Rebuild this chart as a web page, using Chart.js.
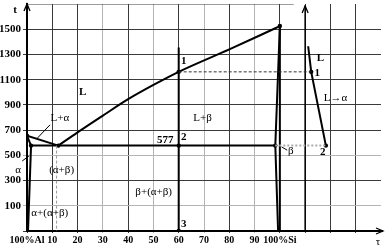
<!DOCTYPE html>
<html>
<head>
<meta charset="utf-8">
<script src="https://cdn.jsdelivr.net/npm/chart.js@4.4.1/dist/chart.umd.min.js"></script>
<style>
  html, body { margin: 0; padding: 0; background: #fff; }
</style>
</head>
<body>
<canvas id="chart" width="385" height="247"></canvas>
<script>
// --- Axis ticks ---
const xTickValues = [0, 10, 20, 30, 40, 50, 60, 70, 80, 90, 100, 110, 120, 130];
const xTickLabels = ['100%Al', '10', '20', '30', '40', '50', '60', '70', '80', '90', '100%Si', '', '', ''];
const yTickValues = [-100, 100, 300, 500, 700, 900, 1100, 1300, 1500, 1700];
const yTickLabels = ['', '100', '300', '500', '700', '900', '1100', '1300', '1500', ''];
const grayX = [30, 50, 70, 90];
const grayY = [100, 500];

// --- Phase diagram lines (composition %Si, temperature) ---
const alLiqX = [0, 12.4], alLiqT = [655, 577];
const alSolX = [0, 1.6], alSolT = [655, 577];
const alSolvX = [1.6, 0.4], alSolvT = [577, -100];
const eutX = [1.6, 98.2], eutT = [577, 577];
const siLiqX = [12.4, 20, 30, 40, 50, 60, 80, 92, 100];
const siLiqT = [577, 682, 815, 945, 1058, 1162, 1340, 1450, 1525];
const siSolX = [100, 98.2, 99.3], siSolT = [1525, 577, -100];
const siPureX = [100, 100], siPureT = [1525, -100];
const alloyX = [60, 60], alloyT = [1355, -100];
const eutDashX = [11.7, 11.7], eutDashT = [577, -100];

// --- Cooling curve (right part) ---
const coolX = [111.2, 112.4, 118.2];
const coolT = [1365, 1162, 577];
const tAxisX = [110, 110], tAxisT = [-100, 1688];
const link1X = [60, 112.4], link1T = [1162, 1162];
const link2X = [98.2, 118.2], link2T = [577, 577];
const topX = [0, 105.5], topT = [1700, 1700];

// marked points
const dotX = [0, 1.6, 12.4, 60, 60, 60, 100, 98.2, 112.4, 118.2];
const dotT = [655, 577, 577, 1162, 577, -100, 1525, 577, 1162, 577];

// text labels: [text, x, t, bold]
const notes = [
    ['L', 22, 1000, true],
    ['L+α', 13, 796, false],
    ['α', -3.5, 385, false],
    ['(α+β)', 13.7, 386, false],
    ['α+(α+β)', 9, 39, false],
    ['577', 54.7, 622, true],
    ['2', 62, 645, true],
    ['1', 62, 1250, true],
    ['3', 62, -45, true],
    ['L+β', 69.4, 796, false],
    ['β+(α+β)', 50.1, 209, false],
    ['L', 116, 1274, true],
    ['1', 114.8, 1150, true],
    ['L→α', 122, 951, false],
    ['2', 117, 524, true],
    ['β', 104.3, 530, false]
];
// leader lines: [x1, t1, x2, t2]
const leaders = [
    [9.1, 742, 3.9, 632],
    [-1.9, 455, 0.8, 495],
    [100.7, 567, 102.9, 541]
];

const pts = (xs, ts) => xs.map((v, i) => ({ x: v, y: ts[i] }));

function line(xs, ts, width, color, dash) {
    return {
        data: pts(xs, ts),
        showLine: true,
        borderColor: color || '#000',
        borderWidth: width,
        borderDash: dash || [],
        pointRadius: 0,
        fill: false
    };
}

const overlay = {
    id: 'overlay',
    afterDatasetsDraw(chart) {
        const { ctx, chartArea: a } = chart;
        const sx = chart.scales.x, sy = chart.scales.y;
        ctx.save();

        // leaders
        ctx.strokeStyle = '#000';
        ctx.lineWidth = 1;
        leaders.forEach(([x1, t1, x2, t2]) => {
            ctx.beginPath();
            ctx.moveTo(sx.getPixelForValue(x1), sy.getPixelForValue(t1));
            ctx.lineTo(sx.getPixelForValue(x2), sy.getPixelForValue(t2));
            ctx.stroke();
        });

        // arrows
        ctx.lineWidth = 1.3;
        const up = (px, py) => {
            ctx.beginPath();
            ctx.moveTo(px - 3, py + 7);
            ctx.lineTo(px, py);
            ctx.lineTo(px + 3, py + 7);
            ctx.stroke();
        };
        up(a.left, a.top);
        up(sx.getPixelForValue(110), a.top + 2);
        ctx.lineWidth = 2;
        ctx.beginPath();
        ctx.moveTo(a.right - 2, a.bottom);
        ctx.lineTo(a.right + 2, a.bottom);
        ctx.stroke();
        ctx.lineWidth = 1.3;
        ctx.beginPath();
        ctx.moveTo(a.right - 5, a.bottom - 3);
        ctx.lineTo(a.right + 2, a.bottom);
        ctx.lineTo(a.right - 5, a.bottom + 3);
        ctx.stroke();

        // labels
        ctx.fillStyle = '#000';
        ctx.textBaseline = 'middle';
        ctx.textAlign = 'center';
        notes.forEach(([txt, nx, nt, bold]) => {
            ctx.font = (bold ? 'bold ' : '') + '11px "Liberation Serif"';
            ctx.fillText(txt, sx.getPixelForValue(nx), sy.getPixelForValue(nt));
        });
        ctx.font = 'bold 11px "Liberation Serif"';
        ctx.fillText('t', a.left - 12, a.top + 6);
        ctx.font = '11px "Liberation Serif"';
        ctx.fillText('τ', a.right - 3, a.bottom + 11);
        ctx.restore();
    }
};

new Chart(document.getElementById('chart'), {
    type: 'scatter',
    data: {
        datasets: [
            line(topX, topT, 1, '#3a3a3a'),
            line(eutDashX, eutDashT, 1, '#999', [3, 2]),
            line(link1X, link1T, 1, '#333', [3, 2]),
            line(link2X, link2T, 2, '#aaa', [2, 2]),
            line(alLiqX, alLiqT, 2),
            line(alSolX, alSolT, 2),
            line(alSolvX, alSolvT, 2),
            line(eutX, eutT, 2),
            Object.assign(line(siLiqX, siLiqT, 2), { cubicInterpolationMode: 'monotone' }),
            line(siSolX, siSolT, 2),
            line(siPureX, siPureT, 2),
            line(alloyX, alloyT, 2),
            line(tAxisX, tAxisT, 1.5),
            line(coolX, coolT, 2),
            {
                data: pts(dotX, dotT),
                showLine: false,
                pointRadius: 2.2,
                pointBackgroundColor: '#000',
                pointBorderColor: '#000',
                pointBorderWidth: 0
            }
        ]
    },
    options: {
        responsive: false,
        devicePixelRatio: 1,
        animation: false,
        layout: { padding: { top: 2, right: 3, left: 0, bottom: 0 } },
        plugins: {
            legend: { display: false },
            tooltip: { enabled: false }
        },
        scales: {
            x: {
                type: 'linear',
                min: 0,
                max: 140,
                afterBuildTicks: s => { s.ticks = xTickValues.map(v => ({ value: v })); },
                afterFit: s => { s.height = 16; s.paddingLeft = 0; s.paddingRight = 0; },
                border: { color: '#000', width: 2 },
                grid: {
                    color: c => grayX.includes(c.tick && c.tick.value) ? '#b4b4b4' : '#3a3a3a',
                    lineWidth: 1,
                    tickLength: 2
                },
                ticks: {
                    autoSkip: false,
                    maxRotation: 0,
                    padding: 1,
                    color: '#000',
                    font: { family: 'Liberation Serif', weight: 'bold', size: 10 },
                    callback: v => xTickLabels[xTickValues.indexOf(v)]
                }
            },
            y: {
                type: 'linear',
                min: -100,
                max: 1700,
                afterBuildTicks: s => { s.ticks = yTickValues.map(v => ({ value: v })); },
                afterFit: s => { s.width = 27; s.paddingTop = 0; s.paddingBottom = 0; },
                border: { color: '#000', width: 2 },
                grid: {
                    color: c => {
                        const v = c.tick && c.tick.value;
                        if (v === 1700) return 'rgba(0,0,0,0)';
                        return grayY.includes(v) ? '#b4b4b4' : '#3a3a3a';
                    },
                    lineWidth: 1,
                    tickLength: 4
                },
                ticks: {
                    autoSkip: false,
                    padding: 2,
                    color: '#000',
                    font: { family: 'Liberation Serif', weight: 'bold', size: 11 },
                    callback: v => yTickLabels[yTickValues.indexOf(v)]
                }
            }
        }
    },
    plugins: [overlay]
});
</script>
</body>
</html>
